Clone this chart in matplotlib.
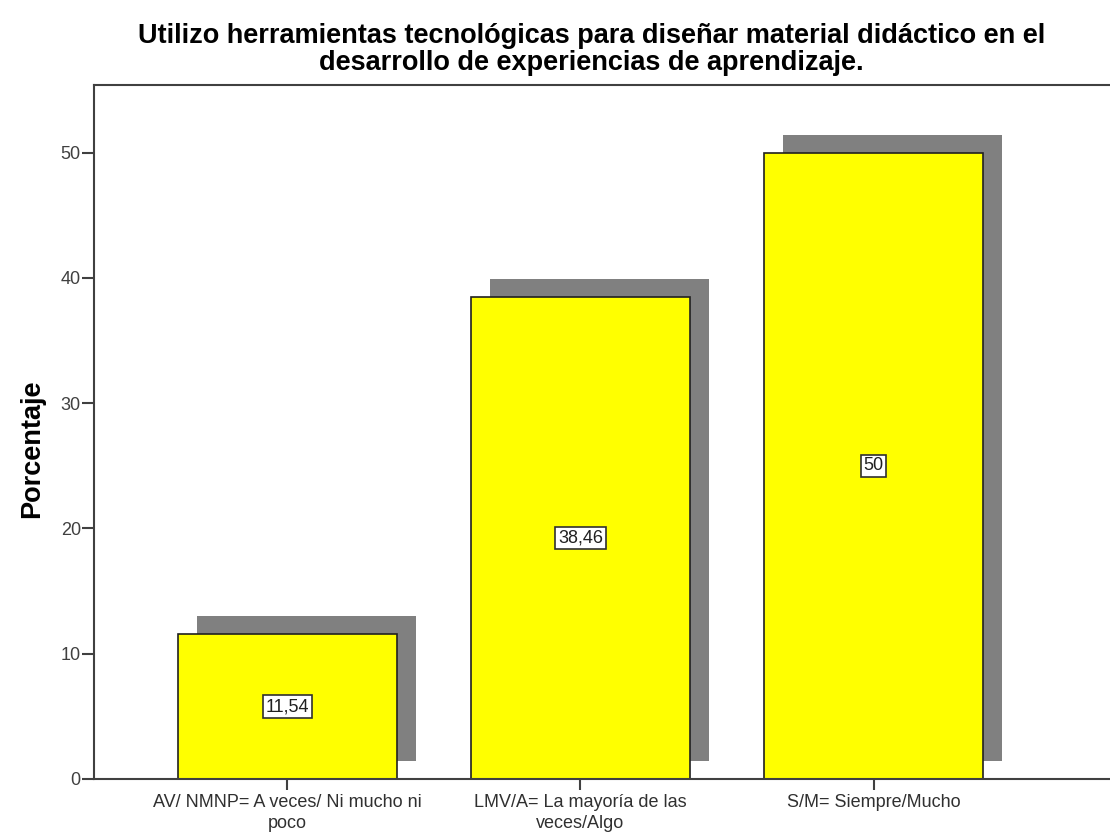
import numpy as np
import matplotlib
matplotlib.use('Agg')
import matplotlib.pyplot as plt

# data
categories = ['AV/ NMNP= A veces/ Ni mucho ni\npoco',
              'LMV/A= La mayoría de las\nveces/Algo',
              'S/M= Siempre/Mucho']
porcentaje = [11.54, 38.46, 50.0]
labels = ['11,54', '38,46', '50']

plt.rcParams['font.family'] = ['Liberation Sans', 'DejaVu Sans']

fig = plt.figure(figsize=(11.1, 8.35), dpi=100)
ax = fig.add_axes([0.0847, 0.0671, 0.9153, 0.831])

x = np.arange(len(categories))
width = 0.747
# shadow offset (data units)
sdx = 0.065
sdy = 1.45

ax.bar(x + sdx, porcentaje, width=width, bottom=sdy, color='#808080', zorder=1)
ax.bar(x, porcentaje, width=width, color='#ffff00', edgecolor='#202020', linewidth=1.2, zorder=2)

for xi, v, lab in zip(x, porcentaje, labels):
    ax.text(xi, v / 2, lab, ha='center', va='center', fontsize=13, color='#202020', zorder=3,
            bbox=dict(boxstyle='square,pad=0.15', facecolor='white', edgecolor='#303030', linewidth=1.2))

ax.set_xlim(-0.66, 2.807)
ax.set_ylim(0, 55.4)
ax.set_yticks([0, 10, 20, 30, 40, 50])
ax.set_xticks(x)
ax.set_xticklabels(categories, fontsize=13, color='#303030', linespacing=1.3)
ax.tick_params(axis='y', labelsize=13, labelcolor='#404040', length=8.5, width=1.5, color='#404040', pad=1)
ax.tick_params(axis='x', length=8, width=1.5, color='#404040', pad=3)

for s in ['left', 'top', 'bottom']:
    ax.spines[s].set_color('#404040')
    ax.spines[s].set_linewidth(1.5)
ax.spines['right'].set_visible(False)

ax.set_ylabel('Porcentaje', fontsize=19.5, fontweight='bold')
ax.yaxis.set_label_coords(-0.048, 0.4755)
fig.suptitle('Utilizo herramientas tecnológicas para diseñar material didáctico en el\n'
             'desarrollo de experiencias de aprendizaje.',
             x=0.533, y=0.972, fontsize=19.5, fontweight='bold', linespacing=1.03)

fig.savefig('out.png', dpi=100)
